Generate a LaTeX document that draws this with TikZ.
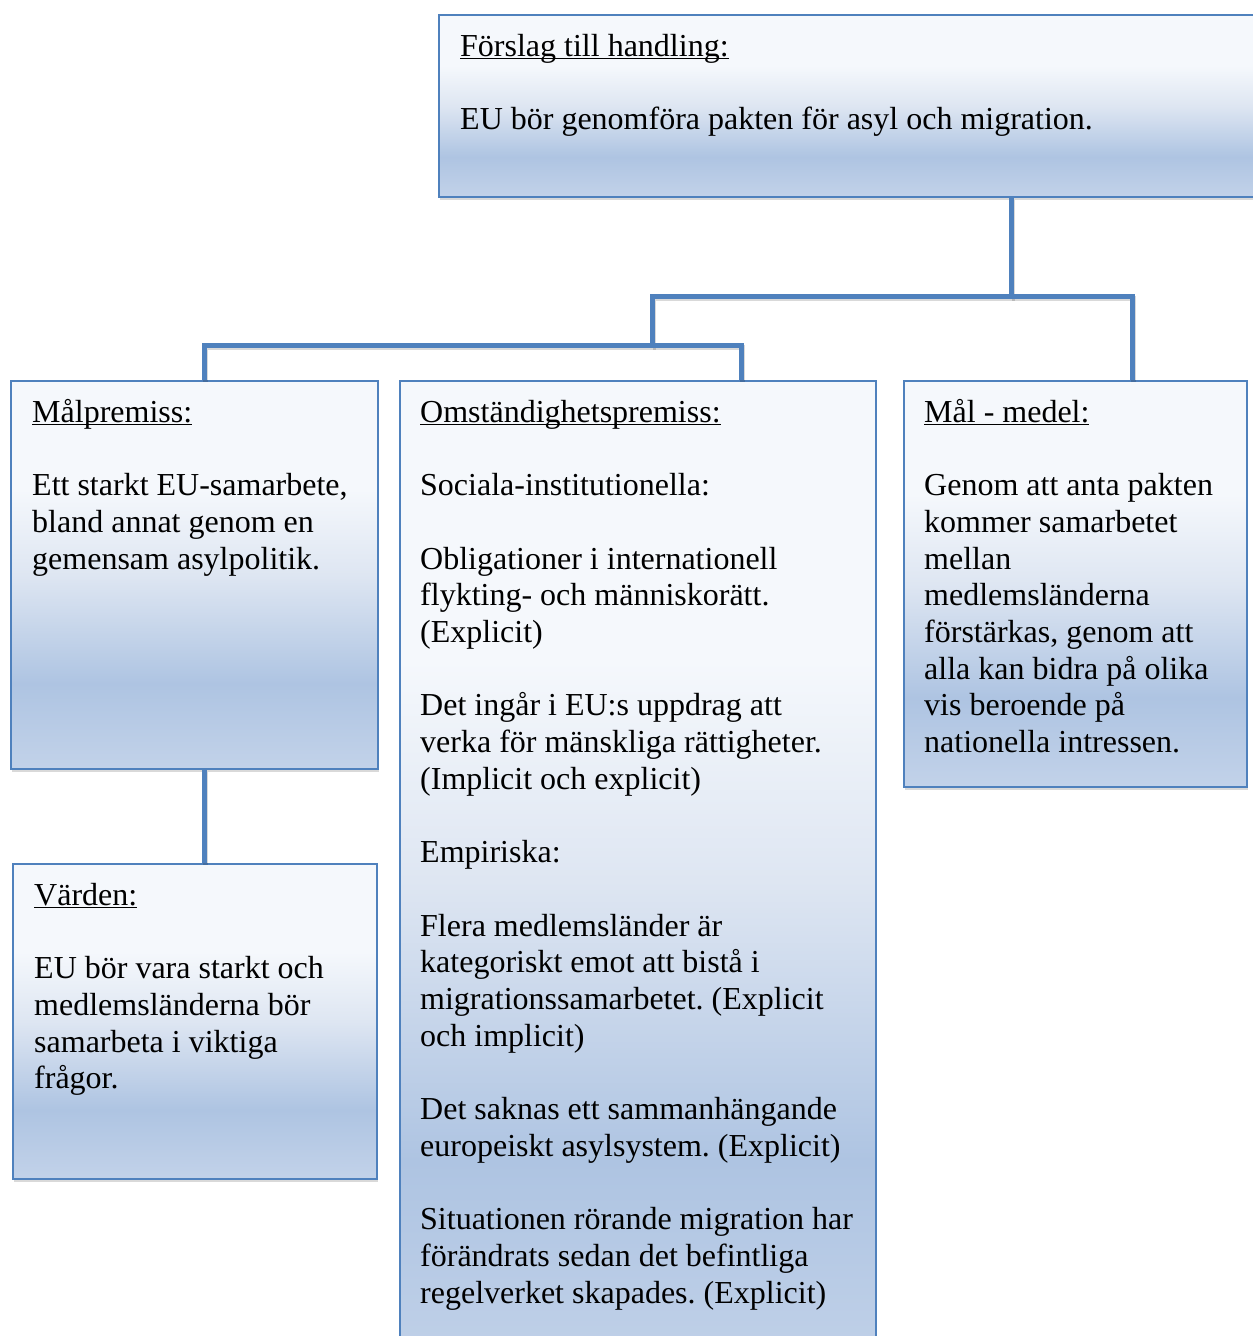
\documentclass[tikz,border=0pt]{standalone}
\usepackage{fontspec}
\setmainfont{Liberation Serif}
\usetikzlibrary{shadows,calc}
\definecolor{bordc}{RGB}{79,129,189}
\definecolor{gtop}{RGB}{245,248,252}
\definecolor{gmid}{RGB}{222,230,242}
\definecolor{gdark}{RGB}{174,196,226}
\definecolor{gbot}{RGB}{194,210,233}
\pgfdeclareverticalshading{boxshade}{100bp}{color(0bp)=(gbot); color(25bp)=(gbot); color(36bp)=(gdark); color(50bp)=(gmid); color(61bp)=(gtop); color(100bp)=(gtop)}
\newcommand\ulx[1]{\setbox0\hbox{#1}\rlap{\rule[-3pt]{\wd0}{1.4pt}}\box0}
\newcommand\fl{\rule{0pt}{32pt}}
\newcommand\bl{\\[36.7pt]}
\frenchspacing
\begin{document}
\begin{tikzpicture}[x=1pt,y=-1pt,
  boxnode/.style={draw=bordc, line width=1.6pt, shade, shading=boxshade,
    drop shadow={shadow xshift=1.5pt, shadow yshift=-3pt, opacity=0.3},
    inner sep=0pt, anchor=north west},
  txt/.style={anchor=north west, inner sep=0pt, align=left,
    font=\fontsize{32}{36.7}\selectfont},
  conn/.style={draw=bordc, line width=5pt,
    preaction={draw=black, opacity=0.15, line width=5pt, transform canvas={xshift=1pt, yshift=-2pt}}}]
\clip (0,0) rectangle (1253,1336);
% boxes
\node[boxnode, minimum width=860pt, minimum height=182pt] (top) at (438,14) {};
\node[boxnode, minimum width=367pt, minimum height=388pt] (mal) at (10,380) {};
\node[boxnode, minimum width=364pt, minimum height=315pt] (var) at (12,863) {};
\node[boxnode, minimum width=476pt, minimum height=1000pt] (om) at (399,380) {};
\node[boxnode, minimum width=343pt, minimum height=406pt] (mm) at (903,380) {};
% texts
\node[txt] (toptxt) at (460,24) {\fl\ulx{Förslag till handling:}\bl
EU bör genomföra pakten för asyl och migration.};
\node[txt] (maltxt) at (32,390) {\fl\ulx{Målpremiss:}\bl
Ett starkt EU-samarbete,\\
bland annat genom en\\
gemensam asylpolitik.};
\node[txt] (vartxt) at (34,873) {\fl\ulx{Värden:}\bl
EU bör vara starkt och\\
medlemsländerna bör\\
samarbeta i viktiga\\
frågor.};
\node[txt] (omtxt) at (420,390) {\fl\ulx{Omständighetspremiss:}\bl
Sociala-institutionella:\bl
Obligationer i internationell\\
flykting- och människorätt.\\
(Explicit)\bl
Det ingår i EU:s uppdrag att\\
verka för mänskliga rättigheter.\\
(Implicit och explicit)\bl
Empiriska:\bl
Flera medlemsländer är\\
kategoriskt emot att bistå i\\
migrationssamarbetet. (Explicit\\
och implicit)\bl
Det saknas ett sammanhängande\\
europeiskt asylsystem. (Explicit)\bl
Situationen rörande migration har\\
förändrats sedan det befintliga\\
regelverket skapades. (Explicit)};
\node[txt] (mmtxt) at (924,390) {\fl\ulx{Mål - medel:}\bl
Genom att anta pakten\\
kommer samarbetet\\
mellan\\
medlemsländerna\\
förstärkas, genom att\\
alla kan bidra på olika\\
vis beroende på\\
nationella intressen.};
% connector points
\coordinate (j1) at (1011,296);
\coordinate (j2) at (652,345);
\coordinate (malT) at ($(mal.north west)+(194,0)$);
\coordinate (omT) at ($(om.north west)+(342,0)$);
\coordinate (mmT) at ($(mm.north west)+(229,0)$);
\coordinate (malB) at ($(mal.south west)+(194,0)$);
% connectors
\draw[conn] (top.south -| j1) -- (j1) -| (j2) -| (malT);
\draw[conn] (j1) -| (mmT);
\draw[conn] (j2) -| (omT);
\draw[conn] (malB) -- (var.north -| malB);
\end{tikzpicture}
\end{document}
